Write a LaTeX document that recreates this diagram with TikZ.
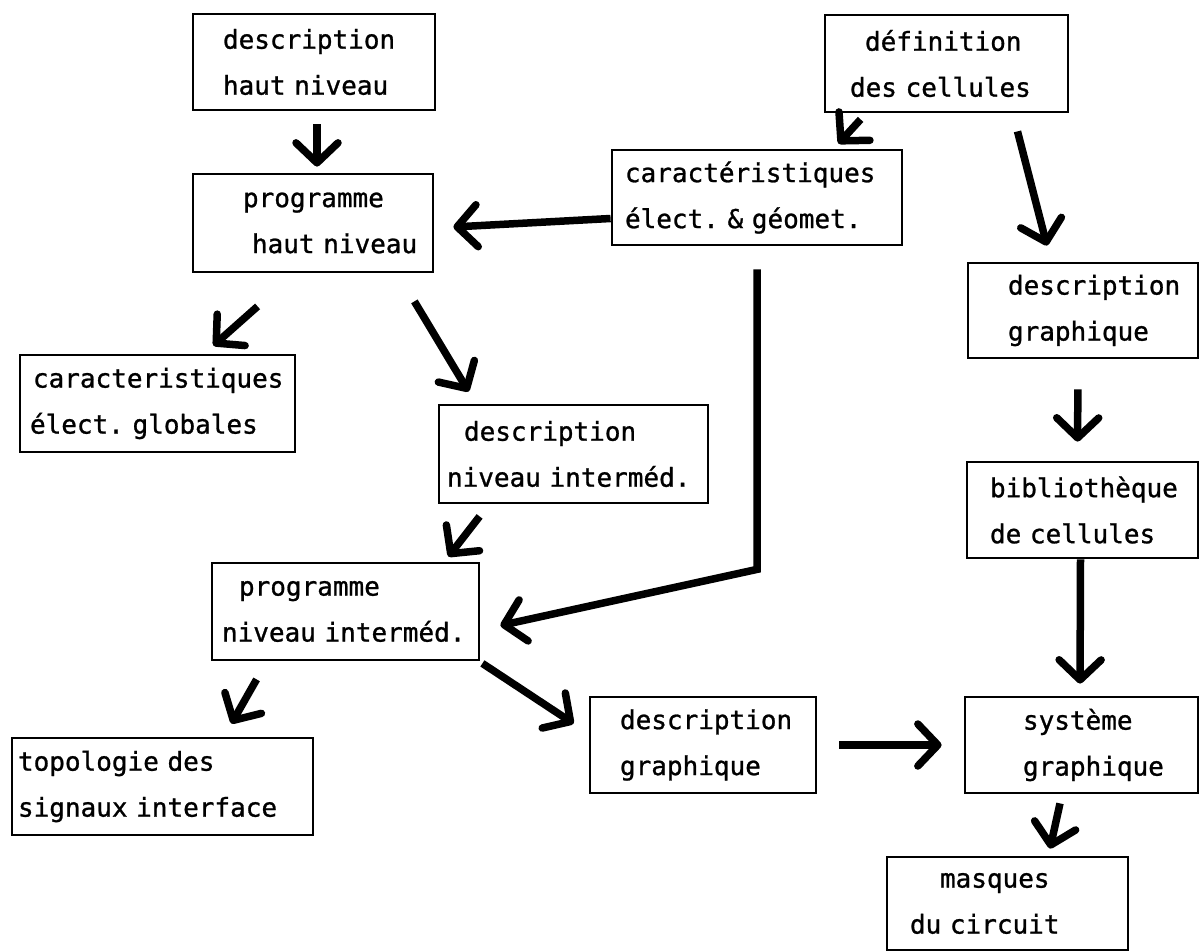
\documentclass[tikz,border=0pt]{standalone}
\usepackage{fontspec}
\setmainfont{DejaVu Sans Mono}[FakeBold=1]
\usetikzlibrary{arrows.meta}
\newcommand{\ind}[1]{\hspace*{#1pt}}
\newcommand{\boxfont}{\fontsize{26}{46}\selectfont\fontdimen2\font=0.602em\fontdimen3\font=0pt\fontdimen4\font=0pt}
\frenchspacing

\begin{document}
\begin{tikzpicture}[x=1pt, y=-1pt,
	box/.style={draw, line width=2.8pt, inner xsep=0pt, inner ysep=0pt, align=left, font=\boxfont},
	arr/.style={line width=7.5pt, -{Straight Barb[length=20pt, width=42pt, round]}}]
			\useasboundingbox (0,0) rectangle (1203,952);

			% left column
			\node[box, text width=242pt, minimum height=96pt] (descHaut) at (314,62) {\ind{30}description\\\ind{30}haut niveau};
			\node[box, text width=240pt, minimum height=98pt] (progHaut) at (313,223) {\ind{50}programme\\\ind{59}haut niveau};
			\node[box, text width=275pt, minimum height=97pt] (caracGlob) at (157.5,403.5) {\ind{13}caracteristiques\\\ind{10}élect. globales};
			\node[box, text width=269pt, minimum height=98pt] (descNiv) at (573.5,454) {\ind{25}description\\\ind{8}niveau interméd.};
			\node[box, text width=267pt, minimum height=97pt] (progNiv) at (345.5,611.5) {\ind{27}programme\\\ind{10}niveau interméd.};
			\node[box, text width=301pt, minimum height=97pt] (topo) at (162.5,786.5) {\ind{6}topologie des\\\ind{6}signaux interface};
			\node[box, text width=226pt, minimum height=96pt] (descGraphMid) at (703,745) {\ind{30}description\\\ind{30}graphique};

			% right column
			\node[box, text width=243pt, minimum height=97pt] (defCell) at (946.5,63.5) {\ind{40}définition\\\ind{25}des cellules};
			\node[box, text width=290pt, minimum height=95pt] (caracEG) at (757,197.5) {\ind{13}caractéristiques\\\ind{13}élect. \& géomet.};
			\node[box, text width=230pt, minimum height=95pt] (descGraphR) at (1083,310.5) {\ind{40}description\\\ind{40}graphique};
			\node[box, text width=231pt, minimum height=96pt] (biblio) at (1082.5,510) {\ind{23}bibliothèque\\\ind{23}de cellules};
			\node[box, text width=233pt, minimum height=96pt] (systeme) at (1081.5,745) {\ind{58}système\\\ind{58}graphique};
			\node[box, text width=241pt, minimum height=93pt] (masques) at (1007.5,903.5) {\ind{53}masques\\\ind{23}du circuit};

			% arrows
			\draw[arr, shorten <=13pt, shorten >=6pt] ([xshift=3pt]descHaut.south) -- ([xshift=4pt]progHaut.north);
			\draw[arr] ([xshift=37pt,yshift=-6pt]defCell.south west) -- ([xshift=-65pt,yshift=5pt]caracEG.north east);
			\draw[arr] ([yshift=-21pt]caracEG.west) -- ([xshift=19pt,yshift=-4pt]progHaut.east);
			\draw[arr] ([xshift=66pt,yshift=-33pt]progHaut.south west) -- ([xshift=-83pt,yshift=8pt]caracGlob.north east);
			\draw[arr] ([xshift=-20pt,yshift=-28pt]progHaut.south east) -- ([xshift=31pt,yshift=12pt]descNiv.north west);
			\draw[arr] ([xshift=71pt,yshift=-18pt]defCell.south) -- ([xshift=-36pt,yshift=16pt]descGraphR.north);
			\draw[arr, shorten <=30pt, shorten >=19pt] ([xshift=-5pt]descGraphR.south) -- ([xshift=-5pt]biblio.north);
			\draw[arr, shorten >=12pt] ([xshift=-2pt]biblio.south) -- ([xshift=-1.5pt]systeme.north);
			\draw[arr] ([yshift=-23pt]caracEG.south) -- ++(0,300) -- ([xshift=20pt,yshift=-14pt]progNiv.east);
			\draw[arr] ([xshift=42pt,yshift=-12pt]descNiv.south west) -- ([xshift=-32pt,yshift=5pt]progNiv.north east);
			\draw[arr] ([xshift=46pt,yshift=-18pt]progNiv.south west) -- ([xshift=-83pt,yshift=13pt]topo.north east);
			\draw[arr] ([xshift=2pt,yshift=-2pt]progNiv.south east) -- ([xshift=-15pt,yshift=-28pt]descGraphMid.north west);
			\draw[arr, shorten <=22pt, shorten >=22pt] (descGraphMid.east) -- (systeme.west);
			\draw[arr] ([xshift=-21.5pt,yshift=-9pt]systeme.south) -- ([xshift=42.5pt,yshift=7pt]masques.north);
		\end{tikzpicture}
\end{document}
